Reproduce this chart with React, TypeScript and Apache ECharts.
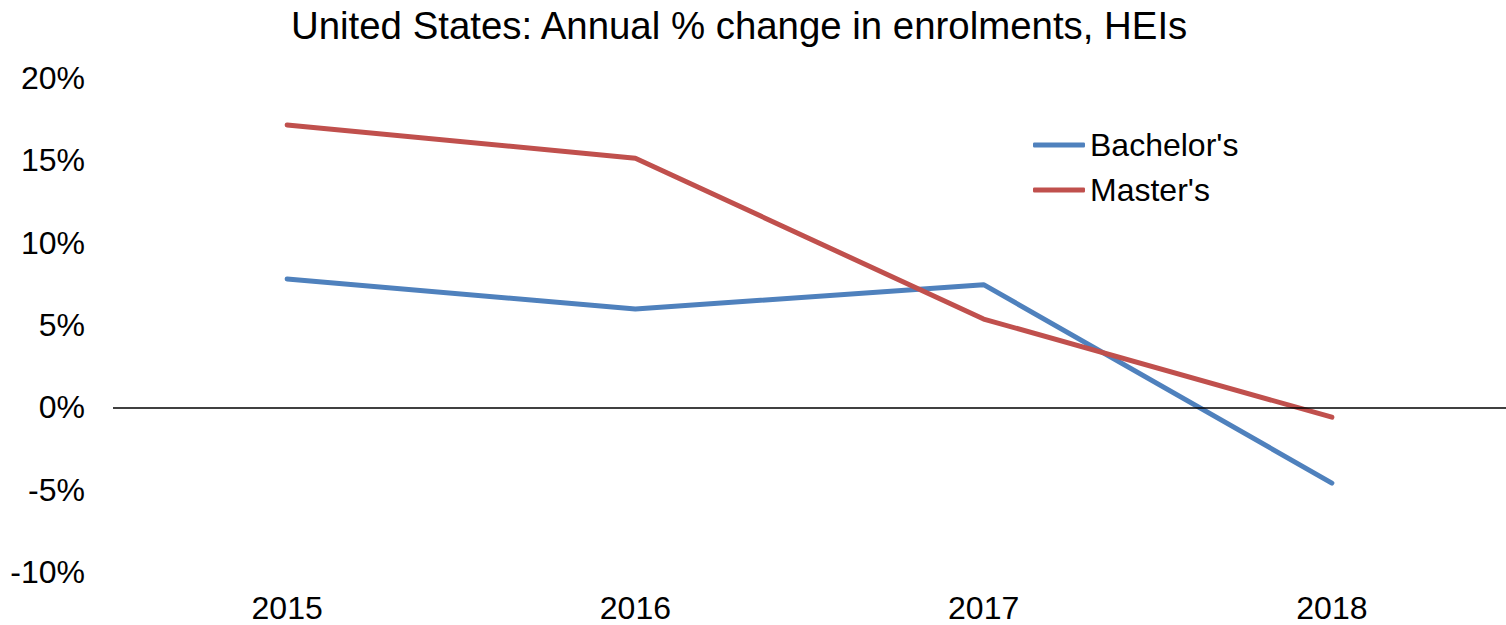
import React, { useEffect, useRef } from "react";
import * as echarts from "echarts";

const years = ["2015", "2016", "2017", "2018"];
const bachelors = [7.8, 5.97, 7.45, -4.6];
const masters = [17.15, 15.13, 5.36, -0.6];
const titleText = "United States: Annual % change in enrolments, HEIs";

export default function App() {
  const ref = useRef<HTMLDivElement>(null);
  useEffect(() => {
    const chart = echarts.init(ref.current!, null, { renderer: "svg" });
    const font = "Liberation Sans, Arial, sans-serif";
    chart.setOption({
      animation: false,
      title: {
        text: titleText,
        left: 286,
        top: 1,
        textStyle: { fontFamily: font, fontSize: 38.4, fontWeight: "normal", color: "#000" },
      },
      legend: {
        orient: "vertical",
        left: 1033,
        top: 129,
        padding: 0,
        icon: "roundRect",
        itemWidth: 52,
        itemHeight: 5,
        itemGap: 13,
        textStyle: { fontFamily: font, fontSize: 32, color: "#000" },
        data: ["Bachelor's", "Master's"],
      },
      grid: { left: 113, right: 0, top: 78, bottom: 53, containLabel: false },
      xAxis: {
        type: "category",
        data: years,
        boundaryGap: true,
        axisLine: { show: false },
        axisTick: { show: false },
        axisLabel: { fontFamily: font, fontSize: 32, color: "#000", margin: 20 },
      },
      yAxis: {
        type: "value",
        min: -10,
        max: 20,
        interval: 5,
        axisLine: { show: false },
        axisTick: { show: false },
        splitLine: { show: false },
        axisLabel: {
          formatter: "{value}%",
          fontFamily: font,
          fontSize: 32,
          color: "#000",
          margin: 28,
        },
      },
      series: [
        {
          name: "Bachelor's",
          type: "line",
          data: bachelors,
          symbol: "none",
          color: "#4F81BD",
          lineStyle: { width: 5, color: "#4F81BD", cap: "round" },
          markLine: {
            silent: true,
            symbol: "none",
            label: { show: false },
            lineStyle: { color: "#000", width: 1.5, type: "solid" },
            data: [{ yAxis: 0 }],
          },
          z: 3,
        },
        {
          name: "Master's",
          type: "line",
          data: masters,
          symbol: "none",
          color: "#C0504D",
          lineStyle: { width: 5, color: "#C0504D", cap: "round" },
          z: 4,
        },
      ],
    });
    return () => chart.dispose();
  }, []);
  return (
    <div
      ref={ref}
      style={{ position: "fixed", left: 0, top: 0, width: 1506, height: 625, background: "#fff" }}
    />
  );
}
